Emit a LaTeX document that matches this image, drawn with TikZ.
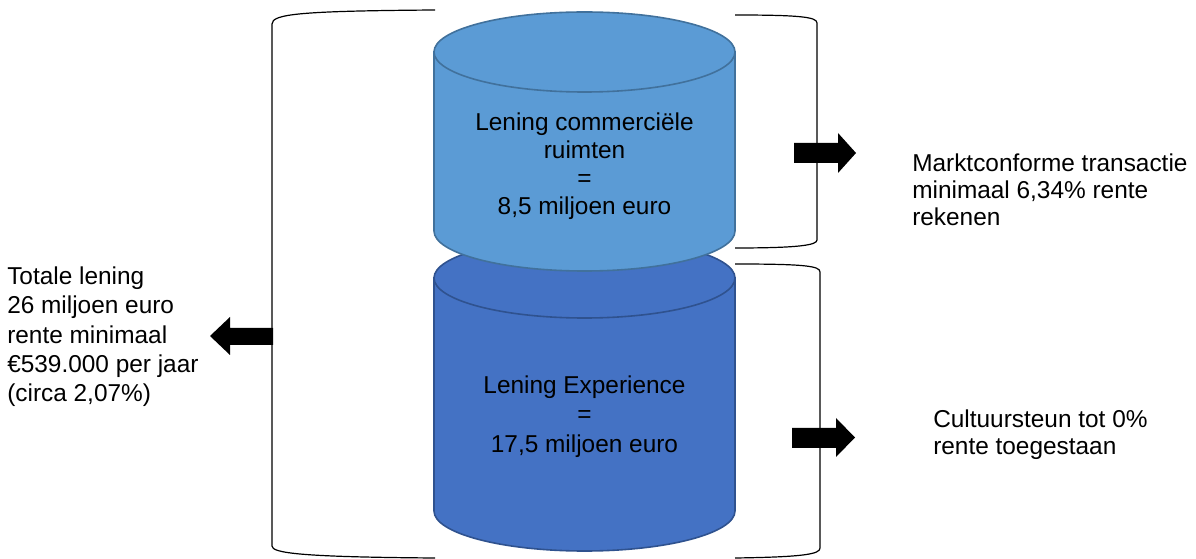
\documentclass[tikz,border=0pt]{standalone}
\usepackage{fontspec}
\setmainfont{Liberation Sans}
\usepackage{tikz}
\usepackage{xcolor}

\definecolor{canLight}{HTML}{5B9BD5}
\definecolor{canLightEdge}{HTML}{41719C}
\definecolor{canDark}{HTML}{4472C4}
\definecolor{canDarkEdge}{HTML}{2F528F}

\tikzset{
  labeltxt/.style={font=\fontsize{18.3}{21}\selectfont, inner sep=0pt, text=black},
  bracketline/.style={draw=black, line width=0.9},
  blockarrow/.style={fill=black, draw=none}
}

\begin{document}
\begin{tikzpicture}[x=0.75pt,y=0.75pt,yscale=-1,xscale=1]
\useasboundingbox (0,0) rectangle (1196,559);

%Shape: Can [id:lowercan]
\draw [draw=canDarkEdge, fill=canDark, line width=1.2] (434,278) -- (434,511) arc [start angle=180, end angle=0, x radius=150.5, y radius=40] -- (735,278) -- cycle ;
\draw [draw=canDarkEdge, fill=canDark, line width=1.2] (584.5,278) ellipse [x radius=150.5, y radius=40] ;
%Shape: Can [id:uppercan]
\draw [draw=canLightEdge, fill=canLight, line width=1.2] (434,52) -- (434,231) arc [start angle=180, end angle=0, x radius=150.5, y radius=40] -- (735,52) -- cycle ;
\draw [draw=canLightEdge, fill=canLight, line width=1.2] (584.5,52) ellipse [x radius=150.5, y radius=40] ;

%Shape: Left Bracket [id:totalbracket]
\draw [bracketline] (435,10) .. controls (300,11) and (272,14) .. (272,24) -- (272,546) .. controls (272,553) and (300,557) .. (435,558) ;
%Shape: Right Bracket [id:commbracket]
\draw [bracketline] (735,15) .. controls (800,15) and (817,17) .. (817,23) -- (817,240) .. controls (817,245) and (800,248) .. (735,248) ;
%Shape: Right Bracket [id:experbracket]
\draw [bracketline] (735,264) .. controls (805,264) and (820,266) .. (820,272) -- (820,548) .. controls (820,554) and (805,557) .. (735,558) ;

%Shape: Right Arrow [id:arrowcomm]
\fill [blockarrow] (794,143) -- (838,143) -- (838,133) -- (856,153) -- (838,173) -- (838,163) -- (794,163) -- cycle ;
%Shape: Right Arrow [id:arrowexper]
\fill [blockarrow] (792,428) -- (836,428) -- (836,418) -- (855,437.5) -- (836,457) -- (836,448) -- (792,448) -- cycle ;
%Shape: Left Arrow [id:arrowtotal]
\fill [blockarrow] (273,328) -- (230,328) -- (230,317) -- (210,336) -- (230,355) -- (230,345) -- (273,345) -- cycle ;

% Text Node
\draw (584.5,215) node [labeltxt, anchor=base, align=center] (comm) {Lening commerciële\\ruimten\\=\\8,5 miljoen euro};
% Text Node
\draw (584.5,452) node [labeltxt, anchor=base, align=center, font=\fontsize{18.3}{22}\selectfont] (exper) {Lening Experience\\=\\17,5 miljoen euro};
% Text Node
\draw (7,402) node [labeltxt, anchor=base west, align=left, font=\fontsize{18.3}{22.1}\selectfont] (totaal) {Totale lening\\26 miljoen euro\\rente minimaal\\€539.000 per jaar\\(circa 2,07\%)};
% Text Node
\draw (912,226) node [labeltxt, anchor=base west, align=left, font=\fontsize{18.3}{20.25}\selectfont] (markt) {Marktconforme transactie\\minimaal 6,34\% rente\\rekenen};
% Text Node
\draw (933,455) node [labeltxt, anchor=base west, align=left, font=\fontsize{18.3}{20.25}\selectfont] (cultuur) {Cultuursteun tot 0\%\\rente toegestaan};

\end{tikzpicture}
\end{document}
